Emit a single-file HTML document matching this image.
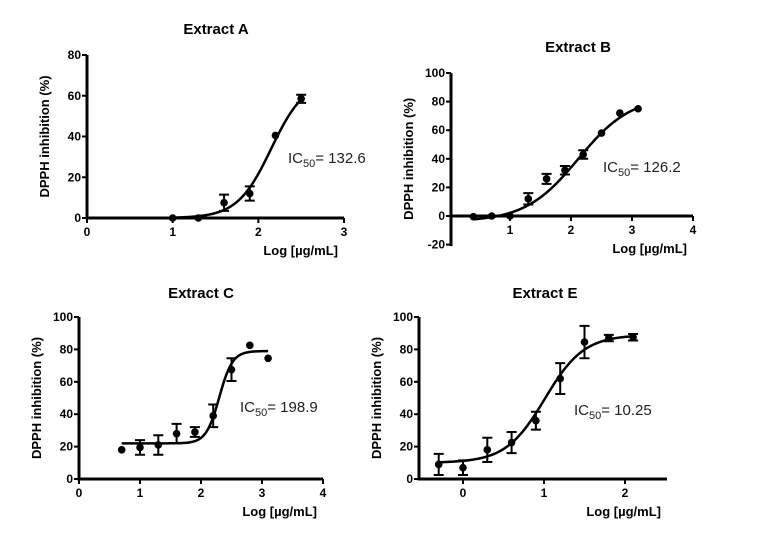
<!DOCTYPE html>
<html><head><meta charset="utf-8"><style>
body{margin:0;background:#fff;}
svg{display:block;font-family:"Liberation Sans",Arial,sans-serif;}
.tick{font-size:12px;font-weight:bold;}
.ttl{font-size:15px;font-weight:bold;}
.lab{font-size:13px;font-weight:bold;}
.ic{font-size:15px;fill:#222;}
</style></head><body>
<svg id="c" width="761" height="536"></svg>
<script>
// Extract A
const xA=[1,1.3,1.6,1.9,2.2,2.5];
const yA=[0,0,7.5,12,40.5,58.5];
const eA=[0.5,0.5,4,3.5,0.5,2];
const fitA=[0,68,2.15,2.2];
// Extract B
const xB=[0.4,0.7,1,1.3,1.6,1.9,2.2,2.5,2.8,3.1];
const yB=[-0.5,0,0,12,26,32,43,58,72,75];
const eB=[0,0,0,4,3.5,3,3,0,0,0];
const fitB=[-4,84,2.12,1];
// Extract C
const xC=[0.7,1,1.3,1.6,1.9,2.2,2.5,2.8,3.1];
const yC=[18,19.5,21,28,29,39,67.5,82.5,74.5];
const eC=[0,4.5,6,6,3,7,7,0,0];
const fitC=[22,79,2.3,4];
// Extract E
const xE=[-0.3,0,0.3,0.6,0.9,1.2,1.5,1.8,2.1];
const yE=[9,7,18,22.5,36,62,84.5,87,87.5];
const eE=[6.5,4.5,7.5,6.5,5.5,9.5,10,2,2];
const fitE=[10,89,1.01,1.8];
const yTicksA=[0,20,40,60,80], xTicksA=[0,1,2,3];
const yTicksB=[-20,0,20,40,60,80,100], xTicksB=[1,2,3,4];
const yTicksC=[0,20,40,60,80,100], xTicksC=[0,1,2,3,4];
const yTicksE=[0,20,40,60,80,100], xTicksE=[0,1,2];

const svg=document.getElementById('c');
const NS='http://www.w3.org/2000/svg';
function mk(tag,attrs,parent){const e=document.createElementNS(NS,tag);for(const k in attrs)e.setAttribute(k,attrs[k]);(parent||svg).appendChild(e);return e;}
function txt(s,attrs,parent){const e=mk('text',attrs,parent);e.textContent=s;return e;}

function panel(cfg){
  const g=mk('g',{});
  
  
  const sx=v=>cfg.px0+(v-cfg.x0)*(cfg.px1-cfg.px0)/(cfg.x1-cfg.x0);
  const sy=v=>cfg.py0+(v-cfg.y0)*(cfg.py1-cfg.py0)/(cfg.y1-cfg.y0);
  const ax=cfg.axisX, bottom=sy(cfg.yMin), top=sy(cfg.yMax), y0=sy(0);
  const ya=mk('line',{x1:ax,y1:bottom+1.5,x2:ax,y2:top,stroke:'#000','stroke-width':3},g);
  
  
  cfg.yt.forEach(v=>{
    mk('line',{x1:ax-5,y1:sy(v),x2:ax,y2:sy(v),stroke:'#000','stroke-width':2},g);
    const t=txt(String(v),{x:ax-6,y:sy(v)+4,'text-anchor':'end',class:'tick'},g);
    
    
  });
  const xa=mk('line',{x1:ax,y1:y0,x2:cfg.axisEnd,y2:y0,stroke:'#000','stroke-width':3},g);
  
  
  cfg.xt.forEach(v=>{
    mk('line',{x1:sx(v),y1:y0,x2:sx(v),y2:y0+5,stroke:'#000','stroke-width':2},g);
    const t=txt(String(v),{x:sx(v),y:y0+18,'text-anchor':'middle',class:'tick'},g);
    
    
  });
  const tt=txt(cfg.title,{x:cfg.titleX,y:cfg.titleY,'text-anchor':'middle',class:'ttl'},g);
  
  
  const xl=txt('Log [µg/mL]',{x:cfg.axisEnd-6,y:y0+37,'text-anchor':'end',class:'lab'},g);
  
  
  const cy=(top+bottom)/2;
  const yl=txt('DPPH inhibition (%)',{x:0,y:0,'text-anchor':'middle',class:'lab',transform:`translate(${ax-38},${cy}) rotate(-90)`},g);
  
  
  const ic=mk('text',{x:cfg.icX,y:cfg.icY,class:'ic'},g);
  ic.innerHTML='IC<tspan font-size="11" dy="4">50</tspan><tspan dy="-4">= '+cfg.ic+'</tspan>';
  
  
  const [b,tp,le,h]=cfg.fit;
  const xs=cfg.xs, xmin=Math.min(...xs), xmax=Math.max(...xs);
  let d='';
  for(let i=0;i<=120;i++){const x=xmin+(xmax-xmin)*i/120;const y=b+(tp-b)/(1+Math.pow(10,h*(le-x)));d+=(i?'L':'M')+sx(x).toFixed(2)+','+sy(y).toFixed(2);}
  const p=mk('path',{d:d,fill:'none',stroke:'#000','stroke-width':2.5},g);
  
  
  xs.forEach((x,i)=>{
    const y=cfg.ys[i], e=cfg.es[i], X=sx(x);
    if(e>1){
      const eb=mk('path',{d:`M${X},${sy(y-e)}L${X},${sy(y+e)}M${X-5},${sy(y-e)}L${X+5},${sy(y-e)}M${X-5},${sy(y+e)}L${X+5},${sy(y+e)}`,stroke:'#000','stroke-width':2,fill:'none'},g);
      
      
    }
    const c=mk('circle',{cx:X,cy:sy(y),r:3.8,fill:'#000'},g);
    
    
  });
}
panel({name:'panel-extract-a',title:'Extract A',titleX:216,titleY:34,x0:0,x1:3,px0:87,px1:344,y0:0,y1:80,py0:218,py1:55,axisX:87,axisEnd:344,yMin:0,yMax:80,yt:yTicksA,xt:xTicksA,xs:xA,ys:yA,es:eA,fit:fitA,ic:'132.6',icX:288,icY:163});
panel({name:'panel-extract-b',title:'Extract B',titleX:578,titleY:52,x0:0,x1:4,px0:449,px1:693,y0:0,y1:100,py0:216,py1:73,axisX:451,axisEnd:693,yMin:-20,yMax:100,yt:yTicksB,xt:xTicksB,xs:xB,ys:yB,es:eB,fit:fitB,ic:'126.2',icX:603,icY:172});
panel({name:'panel-extract-c',title:'Extract C',titleX:201,titleY:298,x0:0,x1:4,px0:79,px1:323,y0:0,y1:100,py0:479,py1:317,axisX:79,axisEnd:323,yMin:0,yMax:100,yt:yTicksC,xt:xTicksC,xs:xC,ys:yC,es:eC,fit:fitC,ic:'198.9',icX:240,icY:412});
panel({name:'panel-extract-e',title:'Extract E',titleX:545,titleY:298,x0:0,x1:2,px0:463,px1:625,y0:0,y1:100,py0:479,py1:317,axisX:419,axisEnd:667,yMin:0,yMax:100,yt:yTicksE,xt:xTicksE,xs:xE,ys:yE,es:eE,fit:fitE,ic:'10.25',icX:574,icY:415});
</script>
</body></html>
